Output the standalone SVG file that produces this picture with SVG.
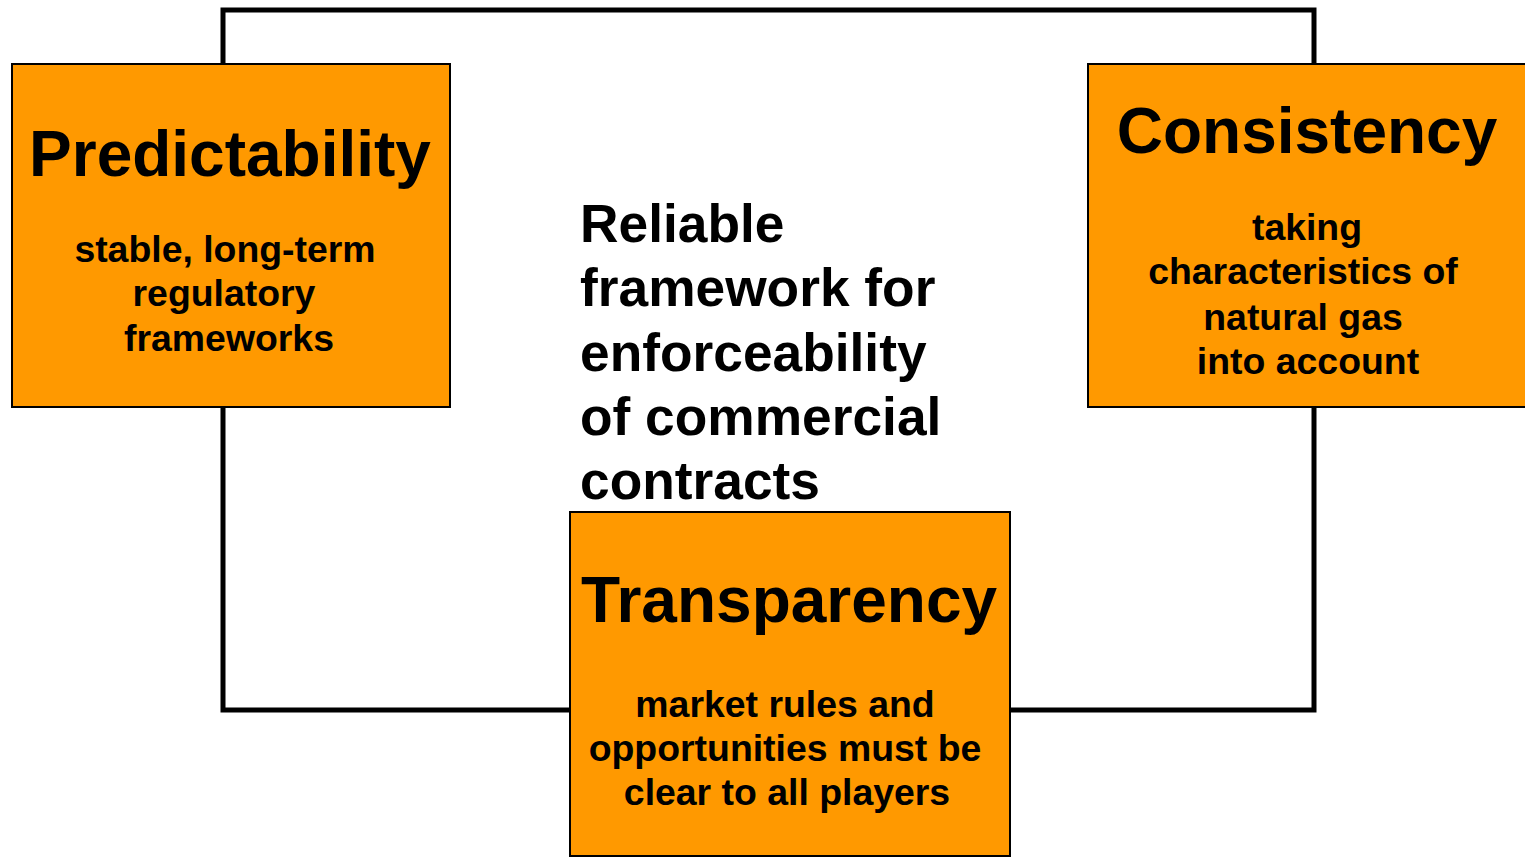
<svg xmlns="http://www.w3.org/2000/svg" width="1525" height="859" viewBox="0 0 1525 859">
<style>
.box{fill:#FF9900;stroke:#000;stroke-width:2}
.t{font-family:"Liberation Sans",Arial,sans-serif;font-weight:bold;fill:#000}
.title{font-size:64px;text-anchor:middle}
.sub{font-size:37.4px;text-anchor:middle}
.mid{font-size:53.3px}
.conn{fill:none;stroke:#000;stroke-width:5;stroke-linejoin:miter}
</style>
<rect width="1525" height="859" fill="#fff"/>
<g id="connectors">
<path class="conn" d="M223,10 H1314 V710 H223 Z"/>
</g>
<g id="predictability">
<rect class="box" x="12" y="64" width="438" height="343"/>
<text class="t title" x="230" y="176">Predictability</text>
<text class="t sub" x="225" y="262">stable, long-term</text>
<text class="t sub" x="224" y="306">regulatory</text>
<text class="t sub" x="229" y="351">frameworks</text>
</g>
<g id="consistency">
<rect class="box" x="1088" y="64" width="440" height="343"/>
<text class="t title" x="1307" y="153">Consistency</text>
<text class="t sub" x="1307" y="240">taking</text>
<text class="t sub" x="1303" y="284">characteristics of</text>
<text class="t sub" x="1303" y="330">natural gas</text>
<text class="t sub" x="1308" y="374">into account</text>
</g>
<g id="center">
<text class="t mid" x="580" y="242">Reliable</text>
<text class="t mid" x="580" y="306">framework for</text>
<text class="t mid" x="580" y="371">enforceability</text>
<text class="t mid" x="580" y="435">of commercial</text>
<text class="t mid" x="580" y="499">contracts</text>
</g>
<g id="transparency">
<rect class="box" x="570" y="512" width="440" height="344"/>
<text class="t title" x="789" y="622">Transparency</text>
<text class="t sub" x="785" y="717">market rules and</text>
<text class="t sub" x="785" y="761">opportunities must be</text>
<text class="t sub" x="787" y="805">clear to all players</text>
</g>
</svg>
